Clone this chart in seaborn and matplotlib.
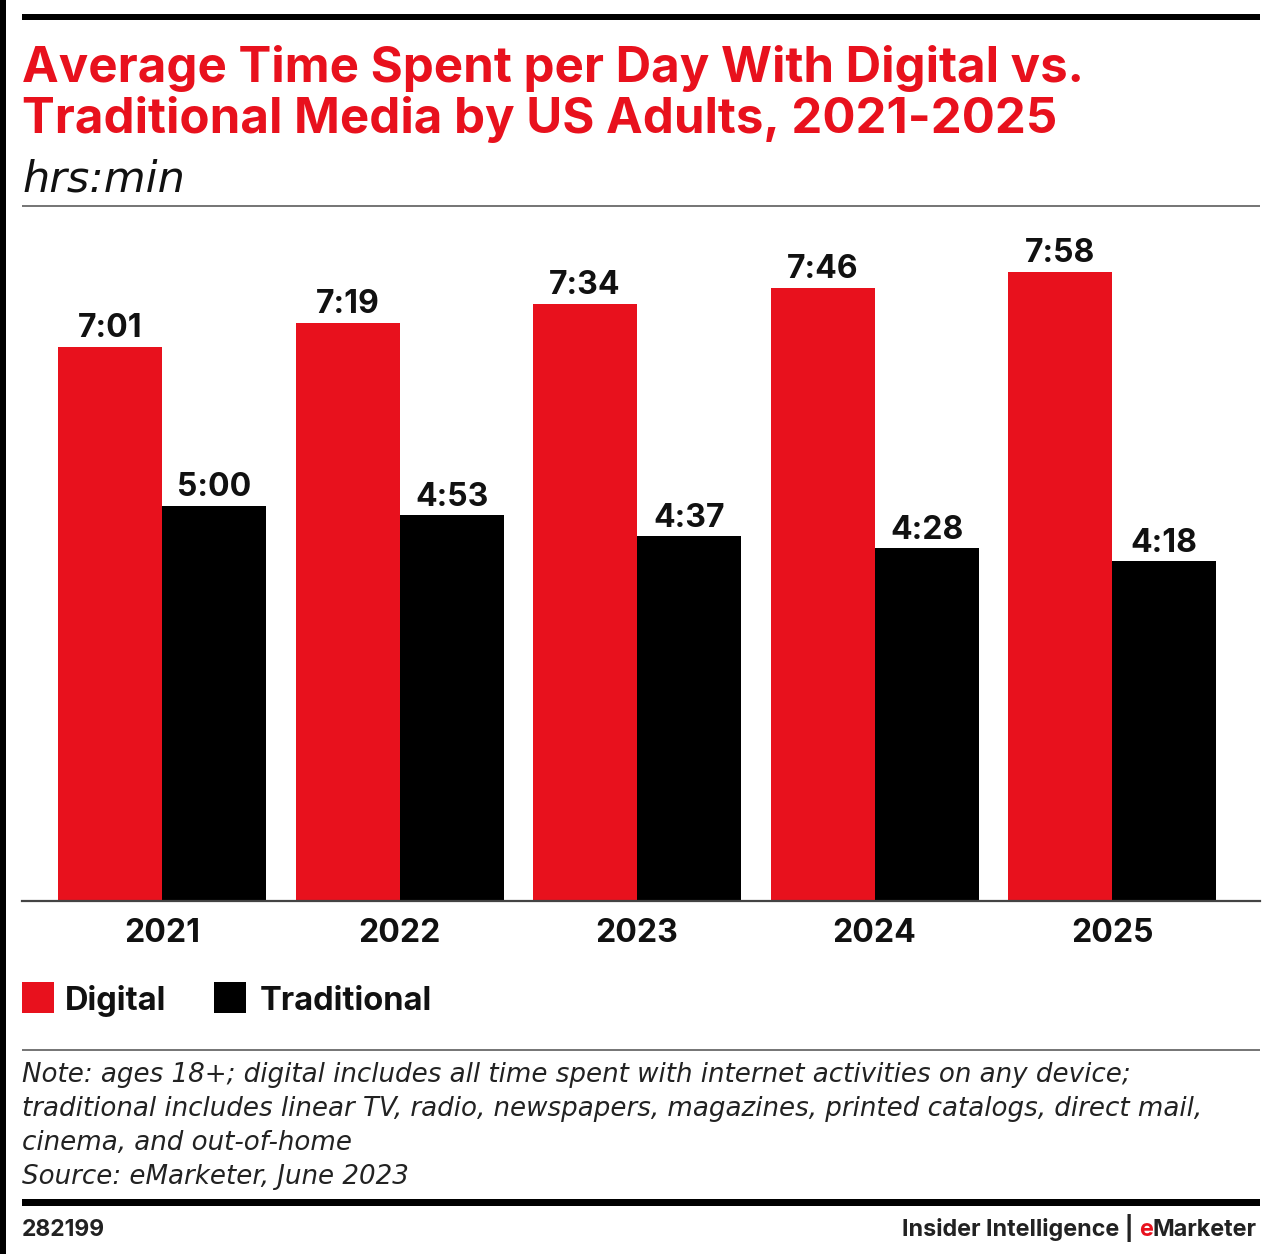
import matplotlib
matplotlib.use("Agg")
import matplotlib.pyplot as plt
import seaborn as sns
import pandas as pd
from matplotlib.patches import Rectangle

# ---- data (minutes per day) ----
years = ["2021", "2022", "2023", "2024", "2025"]
digital_min = [421, 439, 454, 466, 478]        # 7:01, 7:19, 7:34, 7:46, 7:58
traditional_min = [300, 293, 277, 268, 258]    # 5:00, 4:53, 4:37, 4:28, 4:18
series = ["Digital", "Traditional"]
colors = ["#E8111D", "#000000"]

title = "Average Time Spent per Day With Digital vs.\nTraditional Media by US Adults, 2021-2025"
subtitle = "hrs:min"
note_lines = [
    "Note: ages 18+; digital includes all time spent with internet activities on any device;",
    "traditional includes linear TV, radio, newspapers, magazines, printed catalogs, direct mail,",
    "cinema, and out-of-home",
    "Source: eMarketer, June 2023",
]

df = pd.DataFrame({
    "year": years * 2,
    "minutes": digital_min + traditional_min,
    "type": [series[0]] * len(years) + [series[1]] * len(years),
})

W, H = 1267, 1254
sns.set_theme(style="white")
plt.rcParams["font.family"] = ["Inter", "DejaVu Sans"]

fig = plt.figure(figsize=(W / 100, H / 100), dpi=100)
fig.patch.set_facecolor("white")

def fx(px):
    return px / W

def fy(py):
    return 1 - py / H

ax_top, ax_bot = 225, 901
ax = fig.add_axes([fx(22), fy(ax_bot), fx(1260) - fx(22), fy(ax_top) - fy(ax_bot)])
sns.barplot(data=df, x="year", y="minutes", hue="type", palette=colors,
            width=0.876, saturation=1, ax=ax, legend=False, linewidth=0)
ymax = (ax_bot - ax_top) / 1.316
ax.set_ylim(0, ymax)
ax.set_xlim(-0.59, 4.623)
ax.set_xlabel("")
ax.set_ylabel("")
ax.set_yticks([])
for s in ["top", "left", "right"]:
    ax.spines[s].set_visible(False)
ax.spines["bottom"].set_color("#444444")
ax.spines["bottom"].set_linewidth(1.6)
ax.tick_params(axis="x", length=0, pad=12)
for lab in ax.get_xticklabels():
    lab.set_fontsize(23)
    lab.set_fontweight("bold")
    lab.set_color("#111111")

def fmt(m):
    return f"{int(m) // 60}:{int(m) % 60:02d}"

for cont in ax.containers:
    ax.bar_label(cont, labels=[fmt(b.get_height()) for b in cont], padding=2,
                 fontsize=23, fontweight="bold", color="#111111")

# ---- decorations ----
fig.add_artist(Rectangle((0, 0), fx(6), 1, transform=fig.transFigure, color="black", lw=0))
fig.add_artist(Rectangle((fx(22), fy(20)), fx(1260) - fx(22), 6 / H,
                         transform=fig.transFigure, color="black", lw=0))
fig.add_artist(Rectangle((fx(22), fy(207)), fx(1260) - fx(22), 2 / H,
                         transform=fig.transFigure, color="#777777", lw=0))
fig.add_artist(Rectangle((fx(22), fy(1051)), fx(1260) - fx(22), 2 / H,
                         transform=fig.transFigure, color="#777777", lw=0))
fig.add_artist(Rectangle((fx(22), fy(1206)), fx(1260) - fx(22), 7 / H,
                         transform=fig.transFigure, color="black", lw=0))

fig.text(fx(22), fy(133), title, color="#E8111D", fontsize=35.4, fontweight="bold",
         va="baseline", ha="left", linespacing=1.12)
fig.text(fx(22), fy(192), subtitle, color="#111111", fontsize=31, fontstyle="italic",
         va="baseline", ha="left", family=["DejaVu Sans"])

# legend
leg_x = [22, 214]
leg_tx = [65, 260]
for i, name in enumerate(series):
    fig.add_artist(Rectangle((fx(leg_x[i]), fy(1013)), 32 / W, 31 / H,
                             transform=fig.transFigure, color=colors[i], lw=0))
    fig.text(fx(leg_tx[i]), fy(1010), name, fontsize=23.5, fontweight="bold",
             color="#111111", va="baseline", ha="left")

for i, line in enumerate(note_lines):
    fig.text(fx(22), fy(1082 + 34 * i), line, fontsize=18.8, fontstyle="italic",
             color="#222222", va="baseline", ha="left", family=["DejaVu Sans"])

fig.text(fx(22), fy(1236), "282199", fontsize=16.5, fontweight="bold",
         color="#222222", va="baseline", ha="left")
fs = 16.8
t2 = fig.text(fx(1257), fy(1236), "Marketer", fontsize=fs, fontweight="bold",
              color="#222222", va="baseline", ha="right")
fig.canvas.draw()
bb = t2.get_window_extent()
t3 = fig.text(bb.x0 / W, fy(1236), "e", fontsize=fs, fontweight="bold",
              color="#E8111D", va="baseline", ha="right")
bb3 = t3.get_window_extent()
fig.text(bb3.x0 / W, fy(1236), "Insider Intelligence | ", fontsize=fs, fontweight="bold",
         color="#222222", va="baseline", ha="right")

fig.savefig("out.png", dpi=100, facecolor="white")
